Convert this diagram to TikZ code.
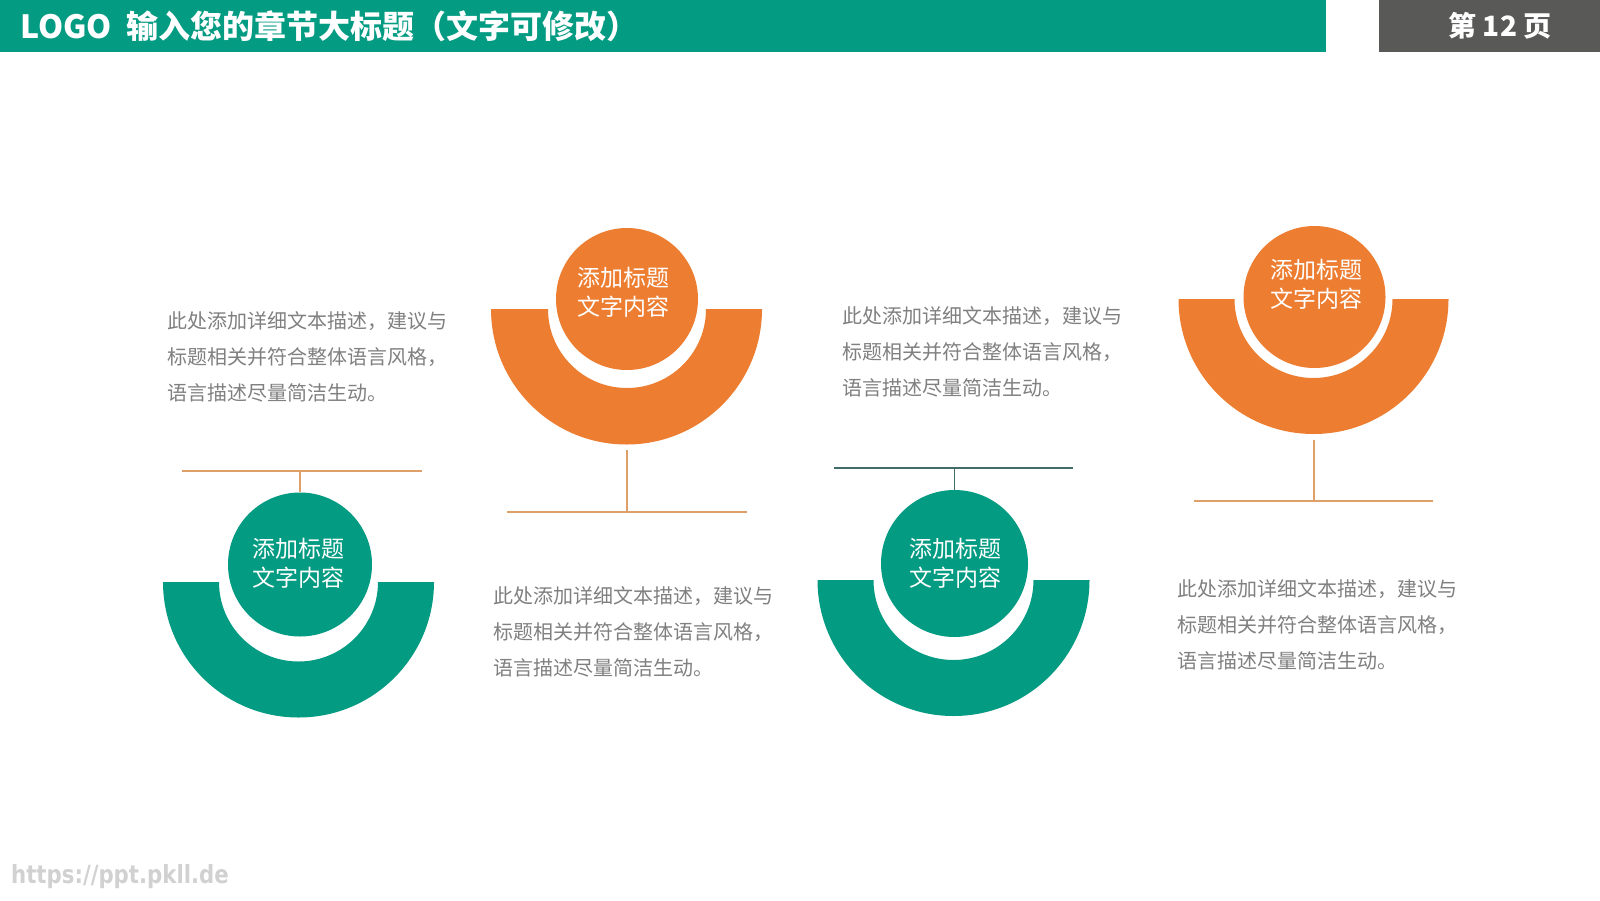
\documentclass[tikz,border=0pt]{standalone}
\usepackage{graphicx}
\usepackage{fontspec}
\setmainfont{Noto Sans CJK SC}
\newfontfamily\urlfont{DejaVu Sans}
\definecolor{myorange}{RGB}{237,125,49}
\definecolor{mygreen}{RGB}{3,155,130}
\definecolor{pagegray}{RGB}{89,89,88}
\definecolor{tanline}{RGB}{222,160,104}
\definecolor{slateline}{RGB}{66,108,106}
\definecolor{bodygray}{RGB}{128,128,128}
\begin{document}
\begin{tikzpicture}[x=1pt,y=-1pt,
  disc/.style={circle,fill=#1,minimum size=142pt,inner sep=0pt},
  disctext/.style={text=white,align=center,inner sep=0pt,font=\fontsize{23}{29}\selectfont},
  desc/.style={anchor=base west,inner sep=0pt,align=left,text=bodygray,font=\fontsize{20}{36}\selectfont},
  link/.style={draw=#1,line width=1.3pt}]
\useasboundingbox (0,0) rectangle (1600,900);
\fill[white] (0,0) rectangle (1600,900);
\fill[mygreen] (0,0) rectangle (1326,52);
\fill[pagegray] (1379,0) rectangle (1600,52);
\node[anchor=west,text=white,font=\fontsize{32}{32}\selectfont\bfseries] (title) at (17,26) {LOGO\ \ 输入您的章节大标题（文字可修改）};
\node[text=white,font=\fontsize{28}{28}\selectfont\bfseries] (page) at (1500,26) {第 12 页};

\fill[myorange] (491,309) arc[start angle=180,end angle=360,radius=135.5pt] -- (706,309) arc[start angle=0,end angle=-180,radius=79pt] -- cycle;
\fill[mygreen] (163,582) arc[start angle=180,end angle=360,radius=135.5pt] -- (378,582) arc[start angle=0,end angle=-180,radius=79.5pt] -- cycle;
\fill[mygreen] (817.5,580) arc[start angle=180,end angle=360,radius=136pt] -- (1033.5,580) arc[start angle=0,end angle=-180,radius=80pt] -- cycle;
\fill[myorange] (1178.5,299) arc[start angle=180,end angle=360,radius=135pt] -- (1392.5,299) arc[start angle=0,end angle=-180,radius=79pt] -- cycle;

\node[disc=myorange] (o1) at (627,299) {};
\node[disc=mygreen,minimum size=144pt] (g1) at (300,564.5) {};
\node[disc=mygreen,minimum size=147pt] (g2) at (954.5,563.5) {};
\node[disc=myorange] (o2) at (1314.5,297) {};
\node[disctext] (o1txt) at (623,292) {添加标题\\文字内容};
\node[disctext] (g1txt) at (298,563) {添加标题\\文字内容};
\node[disctext] (g2txt) at (955.5,563) {添加标题\\文字内容};
\node[disctext] (o2txt) at (1316.5,284) {添加标题\\文字内容};

\coordinate (o1foot) at (627,450);
\coordinate (o1barL) at (507,512);
\coordinate (o1barR) at (747,512);
\draw[link=tanline] (o1barL) -- (o1barR);
\draw[link=tanline] (o1foot) -- (o1foot |- o1barL);

\coordinate (g1barL) at (182,471);
\coordinate (g1barR) at (422,471);
\draw[link=tanline] (g1barL) -- (g1barR);
\draw[link=tanline] (g1.north |- g1barL) -- (g1.north);

\coordinate (g2barL) at (834,468);
\coordinate (g2barR) at (1073,468);
\draw[link=slateline] (g2barL) -- (g2barR);
\draw[link=slateline] (g2.north |- g2barL) -- (g2.north);

\coordinate (o2foot) at (1314,440);
\coordinate (o2barL) at (1194,501);
\coordinate (o2barR) at (1433,501);
\draw[link=tanline] (o2barL) -- (o2barR);
\draw[link=tanline] (o2foot) -- (o2foot |- o2barL);

\node[desc] (t1) at (167,400) {此处添加详细文本描述，建议与\\标题相关并符合整体语言风格，\\语言描述尽量简洁生动。};
\node[desc] (t2) at (493,675) {此处添加详细文本描述，建议与\\标题相关并符合整体语言风格，\\语言描述尽量简洁生动。};
\node[desc] (t3) at (842,395) {此处添加详细文本描述，建议与\\标题相关并符合整体语言风格，\\语言描述尽量简洁生动。};
\node[desc] (t4) at (1177,668) {此处添加详细文本描述，建议与\\标题相关并符合整体语言风格，\\语言描述尽量简洁生动。};

\node[anchor=west,inner sep=0pt,text=black!18,font={\urlfont\bfseries\fontsize{25}{25}\selectfont}] (url) at (11,877) {\scalebox{0.85}[1]{https://ppt.pkll.de}};
\end{tikzpicture}
\end{document}
